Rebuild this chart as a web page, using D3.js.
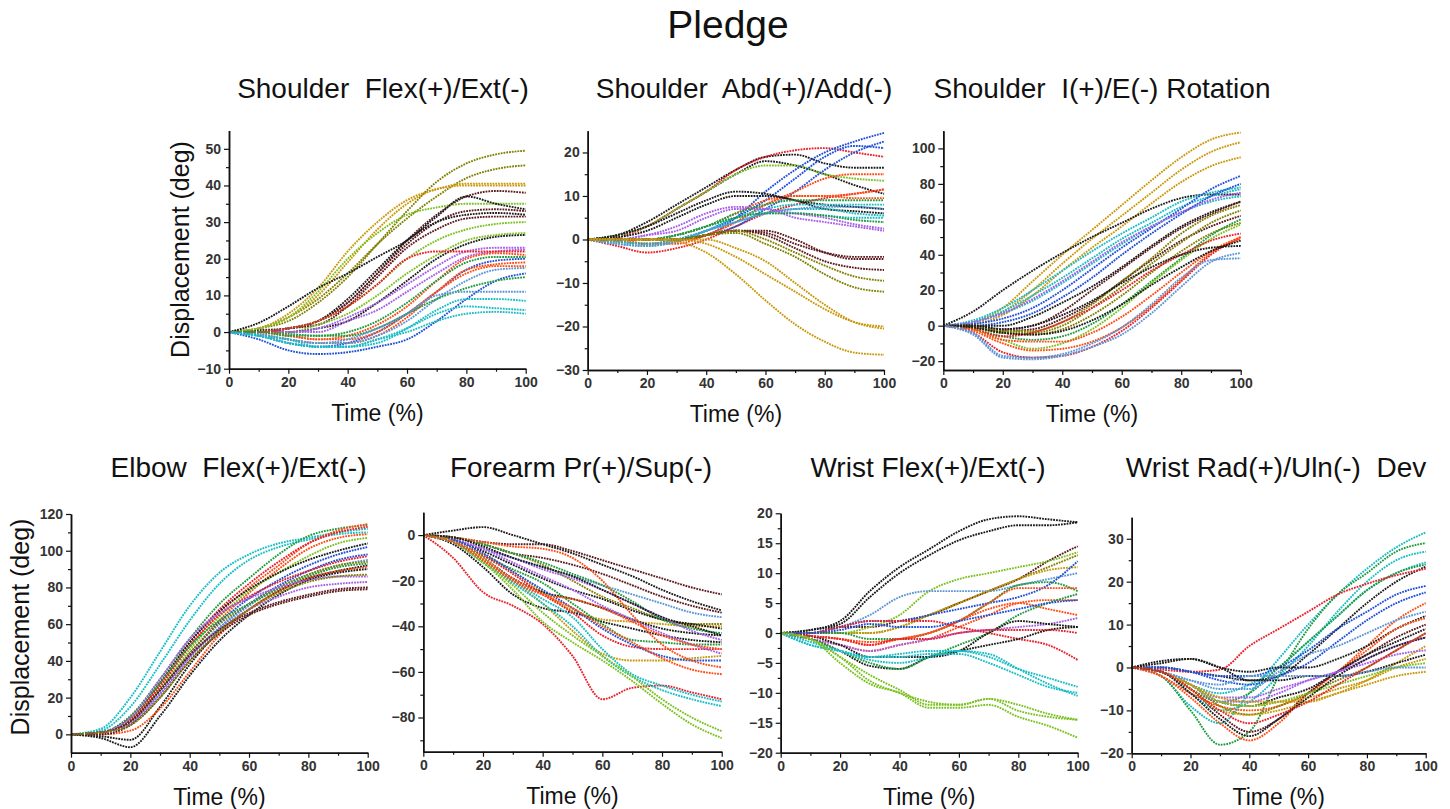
<!DOCTYPE html>
<html>
<head>
<meta charset="utf-8">
<script src="https://cdn.jsdelivr.net/npm/d3@7"></script>
<style>
body { margin: 0; background: #fff; }
svg text { font-family: "Liberation Sans", Arial, sans-serif; }
</style>
</head>
<body>
<svg id="chart" width="1450" height="809"></svg>
<script>
// time samples (% of movement) shared by every trace
const timePct = [0, 10, 20, 30, 40, 50, 60, 70, 80, 90, 100];
const xTicks = [0, 20, 40, 60, 80, 100];
const xMinor = [10, 30, 50, 70, 90];

// Origin-like colour set
const palette = {
  k: '#1a1a1a', r: '#e8202a', b: '#1f4fd8', g: '#1f9a3c', p: '#a55ee8', o: '#808000',
  m: '#5c1a1e', c: '#17bcc4', or: '#ff4a12', yg: '#7ac11f', lb: '#5b95d6', gd: '#c9980a'
};

// ---- Shoulder Flex(+)/Ext(-)
const shFlexValues = [
  [0,1,3,8,15,24,33,41,46,48.5,49.5],
  [0,1,4,9,16,24,31,37,42,44.5,45.5],
  [0,1,5,12,22,30,36,39,40.5,40.5,40.5],
  [0,1,4,10,19,28,35,39,40,40,40],
  [0,0.5,1,3,8,16,25,32,37,38.5,38],
  [0,1,4,11,20,27,32,34,35,35,35],
  [0,2.5,7,12,16,20.5,25,31.5,37,35,33.5],
  [0,0,1,3,8,16,24,30,33,33.5,33],
  [0,0,1,3,9,17,25,30,32,32.5,32],
  [0,0,1,2,7,15,23,28,31,31.5,31.5],
  [0,0,1,3,7,13,20,25,28,29.5,30],
  [0,0,0,2,5,10,16,21,25,26.5,27],
  [0,0,0,1,3,8,14,20,24,26,26.5],
  [0,0,0,1,4,8,13,18,22,23,23],
  [0,0,0,0,3,6,11,16,20.5,22,22.5],
  [0,0,1,3,7,13,20,22,22,22,22],
  [0,0,-1,-2,-1,2,7,14,20,21.5,21],
  [0,0,-0.5,-1,0,3,8,14,19,20.5,20.5],
  [0,-1,-3,-4,-3,0,5,11,17,19.5,20],
  [0,-0.5,-2,-3,-3,-1,4,11,17,18.5,19],
  [0,0,-1,-2,-2,0,5,11,16,18,18],
  [0,-0.5,-2,-3,-3,-1,3,9,14,17,17.5],
  [0,-2,-5,-6,-5.5,-4,-2,3,9,14,16],
  [0,0,-1,-1,-1,1,5,9,12,14,15],
  [0,-1,-2,-3,-2,1,5,10,11,11,11],
  [0,-1,-3,-4,-4,-3,1,6,9,9,8.5],
  [0,-1,-3,-4,-4,-2,1,5,7,6.5,6],
  [0,-1,-2,-4,-4,-2,0,3,5,5.5,5]
];
const shFlexColors = ['o','o','gd','gd','m','yg','k','m','k','m','yg','yg','k','p','p','r',
  'or','g','b','or','or','lb','b','g','lb','c','c','c'];

// ---- Shoulder Abd(+)/Add(-)
const shAbdValues = [
  [0,1,4,8,12,16,19,19.5,17.5,16.5,16.5],
  [0,1,3,7,11,15,18,17,15,12.5,10.5],
  [0,0.5,3,7,11,16,19,20.5,21,20,19],
  [0,-1.5,-3,-2,0,3,6,8,9.5,10.5,11.5],
  [0,1,3,7,11,15,17,17,15,14,13.5],
  [0,0,0,0,1,5,11,16,20,22.5,24.5],
  [0,0,0,0,1,3,7,11,16,20,22.5],
  [0,-0.5,-1,0,2,5,9,14,19,21.5,21],
  [0,-0.5,-1,-1,1,4,8,11,14,15,15],
  [0,0,0,1,3,6,9,10,10,10.5,11.5],
  [0,0,-1,-0.5,1,4,8,10,10,9.5,9.5],
  [0,0.5,2,5,8,10,10,9,7,6.5,6],
  [0,1,3,6,9,11,10.5,9,8,7.5,7],
  [0,-0.5,-1,0,2,4,6,7,7,6,5.5],
  [0,-1,-1.5,-0.5,2,5,7,8,8,8,8],
  [0,0,0,1,3,5,6,6,5.5,5,5],
  [0,-1,-1.5,-0.5,2,4,6,7,7.5,7.5,7],
  [0,0,1,3,6,7.5,7,6,5,3.5,2.5],
  [0,0,1,2,5,7,7,5,4,3,2],
  [0,0,0,1,3,5,6,6,5.5,4.5,4],
  [0,0,0,1,3,6,8,9,9,9,9],
  [0,0,0,0,1,2,1.5,-1,-3,-4,-4],
  [0,0,0,0,1,2,2,0,-3,-4.5,-4.5],
  [0,0,0,0,1,2,1,-2,-5,-6.5,-7],
  [0,0,0,0,1,2,0,-3,-6,-8.5,-9.5],
  [0,0,0,0,1,1.5,-1,-4,-8,-11,-12],
  [0,0,0,0,0,-2,-5,-10,-15,-19,-20.5],
  [0,0,0,0,-1,-4,-8,-12,-16,-19,-20],
  [0,0,0,-0.5,-3,-8,-14,-19.5,-23.5,-26,-26.5]
];
const shAbdColors = ['k','k','r','r','yg','b','b','b','or','or','or','k','k','c','c','c','lb',
  'p','p','g','g','m','m','m','o','o','gd','gd','gd'];

// ---- Shoulder I(+)/E(-) Rotation
const shRotValues = [
  [0,2,10,25,40,54,68,82,95,105,109],
  [0,2,8,20,35,49,62,75,88,98,103.5],
  [0,1,6,17,31,44,56,69,81,90,95],
  [0,8,20,31,41,50,58,66,72,74,74],
  [0,3,10,20,31,42,52,61,70,75,78],
  [0,2,8,17,27,38,49,58,67,73,77],
  [0,2,7,14,24,35,46,56,64,70,73],
  [0,1,4,10,20,32,44,55,66,77,84.5],
  [0,0,2,7,16,27,40,52,63,73,80],
  [0,2,7,15,25,36,47,56,64,71,75],
  [0,0,0,5,13,22,33,45,56,64,70],
  [0,0,-2,0,8,20,32,44,55,63,70],
  [0,-1,-3,-2,4,13,25,37,48,56,62],
  [0,0,-3,-3,2,12,25,38,52,62,68],
  [0,-1,-4,-4,0,10,22,35,47,58,65],
  [0,-1,-4,-5,-2,6,17,30,42,52,58],
  [0,-2,-6,-8,-6,1,12,25,38,51,60],
  [0,-2,-8,-13,-10,-2,10,24,37,49,57],
  [0,-2,-6,-4,2,10,20,31,40,48,52],
  [0,-4,-15,-18,-17,-12,-3,10,25,40,50],
  [0,-3,-10,-14,-13,-9,-1,11,26,41,49],
  [0,-2,-8,-9,-9,-4,5,17,30,42,50],
  [0,-1,-4,-5,-3,3,12,23,33,42,48],
  [0,0,-2,0,6,14,24,33,40,44,45],
  [0,-5,-18,-19,-17,-12,-5,7,22,36,41],
  [0,-4,-17,-18,-16,-10,-1,12,27,37,38]
];
const shRotColors = ['gd','gd','gd','k','c','c','c','b','b','p','k','m','m','o','o','o','g','yg',
  'r','r','or','or','k','k','lb','lb'];

// ---- Elbow Flex(+)/Ext(-)
const elbowValues = [
  [0,3,20,45,70,88,98,104,107,110,112],
  [0,2,15,38,62,82,95,102,106,109,110],
  [0,1,10,30,52,71,85,98,108,112,114],
  [0,1,8,27,48,66,80,92,104,111,114.5],
  [0,1,9,28,50,68,82,94,104,110,113],
  [0,1,7,24,44,62,77,90,101,107,109],
  [0,1,8,25,46,64,78,88,97,104,107],
  [0,1,9,28,50,67,79,88,95,100,104],
  [0,1,7,24,44,61,74,84,92,98,102],
  [0,1,6,22,42,58,71,81,89,95,98],
  [0,1,8,26,48,65,75,83,89,94,97],
  [0,1,6,22,42,58,70,80,87,92,95],
  [0,1,7,24,44,60,71,80,87,92,94],
  [0,1,9,28,48,62,71,79,86,91,93],
  [0,-1,-3,15,38,56,68,78,85,89,92],
  [0,0,2,14,34,54,68,78,85,89,91],
  [0,-2,-7,10,32,51,65,76,84,88,90],
  [0,1,9,30,52,66,74,80,84,86,86],
  [0,1,6,22,42,57,68,75,80,82,83],
  [0,1,7,24,43,57,66,72,76,79,80],
  [0,0,5,20,40,55,65,71,75,78,79],
  [0,1,5,20,40,56,68,77,83,86,87]
];
const elbowColors = ['c','c','g','or','r','or','yg','k','b','b','r','lb','o','g','k','or','k',
  'p','p','m','m','o'];

// ---- Forearm Pr(+)/Sup(-)
const forearmValues = [
  [0,-1,-3,-4,-4,-7,-11,-15,-19,-23,-26],
  [0,2,3.5,0,-4,-8,-13,-18,-24,-29,-33],
  [0,-1,-4,-8,-10,-13,-17,-22,-27,-31,-34],
  [0,-2,-6,-10,-14,-18,-22,-26,-30,-34,-36],
  [0,-1,-4,-8,-13,-20,-27,-32,-37,-39,-39],
  [0,-2,-8,-16,-25,-33,-37,-38,-39,-40,-40],
  [0,-2,-7,-13,-19,-24,-28,-33,-37,-39,-41],
  [0,-1,-4,-8,-12,-17,-22,-29,-37,-41,-43],
  [0,-3,-10,-19,-25,-28,-32,-37,-41,-43,-44],
  [0,-2,-6,-10,-15,-19,-24,-30,-36,-42,-46],
  [0,-4,-14,-26,-32,-34,-38,-41,-44,-46,-47],
  [0,-3,-9,-15,-21,-30,-39,-46,-47,-48,-48],
  [0,-3,-9,-17,-26,-34,-44,-49,-50,-50,-50],
  [0,-2,-6,-12,-18,-24,-31,-37,-43,-48,-52],
  [0,-3,-10,-20,-30,-42,-52,-55,-55,-54,-53],
  [0,-2,-8,-16,-24,-32,-41,-48,-53,-55,-55],
  [0,-1,-3,-5,-6,-10,-20,-35,-48,-55,-58],
  [0,-3,-11,-19,-26,-32,-40,-47,-54,-59,-61],
  [0,-10,-25,-31,-39,-53,-72,-67,-66,-69,-72],
  [0,-3,-12,-20,-28,-36,-50,-61,-66,-70,-73],
  [0,-3,-12,-21,-30,-40,-53,-62,-68,-72,-75],
  [0,-3,-12,-22,-34,-44,-53,-62,-72,-80,-86],
  [0,-3,-12,-24,-38,-47,-55,-64,-74,-83,-89],
  [0,-1,-5,-10,-14,-18,-24,-30,-36,-40,-44],
  [0,-3,-11,-20,-26,-28,-32,-38,-44,-48,-50]
];
const forearmColors = ['m','k','m','lb','o','gd','k','g','k','p','k','g','r','p','gd','b','or',
  'or','r','c','c','yg','yg','k','or'];

// ---- Wrist Flex(+)/Ext(-)
const wristFlexValues = [
  [0,0.5,2,7,11,14,17,19,19.5,19,18.5],
  [0,0.5,1.5,6,10,13,15.5,17,18,18,18.5],
  [0,0,1,1,2,3,5,7,9,12,14.5],
  [0,0,0,1,3,7,9,10,11,12,13.5],
  [0,0,0,0,1,3,5,7,9,11,13],
  [0,0,1,3,6,7,7,7,8,9,10],
  [0,0,0,0,1,3,5,7,9,10.5,11],
  [0,0,1,2,2,3,4,5,6,8,12],
  [0,0,0,-1,-1,0,2,5,8,8.5,7],
  [0,-0.5,-1,-2,-1,0,2,5,7.5,7.5,7.5],
  [0,-1,-2,-3,-2,-1,1,3,5,5.5,5.5],
  [0,-0.5,-1,-1.5,-1,0,2,4,5,4,3],
  [0,0,1,2,2,2,1,0,-1,-2,-4.5],
  [0,-1,-2,-3,-2,-1,0,0.5,1,1.5,2.5],
  [0,-1,-3,-5.5,-6,-4,-3,-2,-1,0.5,1],
  [0,-1,-3,-5,-6,-4,-2,0,3,5,6.5],
  [0,-0.5,-2,-4,-4,-4,-3,0,2,1.5,1],
  [0,-0.5,-1,-2,-1,-1,0,0.5,0.5,0.5,0],
  [0,0,0.5,1.5,1,1,2,3,4,5,5.5],
  [0,-2,-3,-4,-3.5,-3,-3,-4,-6,-7.5,-9],
  [0,-2,-3,-4,-4,-3.5,-3.5,-5,-7,-9,-10],
  [0,-1.5,-3,-4.5,-5,-4,-3,-3.5,-6,-8.5,-10.5],
  [0,-1,-4,-8,-10,-11.5,-12,-11,-12,-13.5,-14.5],
  [0,-1,-5,-8.5,-10,-12.5,-12.5,-12,-14,-15.5,-17.5],
  [0,-1,-4,-7,-9.5,-12,-12,-11,-13,-14,-14.5]
];
const wristFlexColors = ['k','k','m','yg','o','lb','gd','b','g','or','or','or','r','p','k','g',
  'k','r','b','c','c','c','yg','yg','yg'];

// ---- Wrist Rad(+)/Uln(-) Dev
const wristDevValues = [
  [0,-2,-9,-13,-6,2,10,17,23,28,31.5],
  [0,-2,-10,-18,-15,-2,9,17,22,27,29],
  [0,-1,-6,-10,-8,-2,5,13,20,25,27],
  [0,-1,-4,-6,-4,0,6,12,18,22,24.5],
  [0,-1,-5,-8,-6,0,6,12,18,22,24],
  [0,0,-1,-2,-3,-2,3,9,15,20,23.5],
  [0,-0.5,-1,-0.5,5,9,13,17,19.5,21.5,23],
  [0,0,-1,-2,-2,0,4,9,13,17,19],
  [0,0,-1,-3,-4,-2,1,6,11,15,17.5],
  [0,-2,-6,-9,-10,-9,-6,-1,5,11,15],
  [0,-1,-3,-5,-5,-1,3,5,8,11,13],
  [0,1.5,2,0,-1,0,0,2,5,9,12],
  [0,-2,-7,-13,-17,-13,-6,-1,4,9,11.5],
  [0,-1,-5,-11,-15,-12,-6,-1,3,7,10],
  [0,-1,-4,-8,-9,-7,-5,-1,3,6,9],
  [0,-1,-4,-9,-11,-9,-6,-3,0,4,8],
  [0,-1,-4,-8,-8,-6,-3,-1,2,5,7],
  [0,-1,-5,-10,-11,-10,-8,-6,-3,1,5],
  [0,-1,-4,-7,-7,-5,-3,-1,1,3,4],
  [0,1,2,0,-3,-3,-2,-2,-1,1,3],
  [0,-1,-4,-8,-9,-8,-7,-5,-3,0,2],
  [0,-1,-4,-8,-9,-8,-6,-4,-2,0,1],
  [0,-1,-3,-4,-2,-2,-2,-2,-1,0,0],
  [0,-1,-4,-7,-8,-8,-8,-6,-4,-2,-1],
  [0,-1,-6,-12,-16,-12,-7,-2,2,5,7],
  [0,-1,-5,-10,-13,-11,-8,-4,0,4,8]
];
const wristDevColors = ['c','g','c','c','g','k','r','b','b','or','lb','k','or','m','k','o','p',
  'gd','p','k','gd','yg','lb','gd','k','r'];

const panels = [
  { title: 'Shoulder  Flex(+)/Ext(-)', tx: 383, ty: 98, values: shFlexValues, colors: shFlexColors,
    box: [229, 525.7, 130.5, 368.7], yDomain: [-10, 55], yTicks: d3.range(-10, 51, 10), yMinor: d3.range(-5, 56, 10), ylabel: [189, 249.5] },
  { title: 'Shoulder  Abd(+)/Add(-)', tx: 744, ty: 98, values: shAbdValues, colors: shAbdColors,
    box: [587.7, 884, 130.7, 370], yDomain: [-30, 25], yTicks: d3.range(-30, 21, 10), yMinor: d3.range(-25, 26, 10) },
  { title: 'Shoulder  I(+)/E(-) Rotation', tx: 1102, ty: 98, values: shRotValues, colors: shRotColors,
    box: [943.3, 1240.7, 130.7, 370], yDomain: [-25, 110], yTicks: d3.range(-20, 101, 20), yMinor: d3.range(-10, 111, 20) },
  { title: 'Elbow  Flex(+)/Ext(-)', tx: 238.5, ty: 477, values: elbowValues, colors: elbowColors,
    box: [71, 367.7, 514, 752.7], yDomain: [-10, 120], yTicks: d3.range(0, 121, 20), yMinor: d3.range(-10, 111, 20), ylabel: [29, 627] },
  { title: 'Forearm Pr(+)/Sup(-)', tx: 581, ty: 477, values: forearmValues, colors: forearmColors,
    box: [423.3, 721.7, 512.3, 751.7], yDomain: [-95, 10], yTicks: d3.range(-80, 1, 20), yMinor: d3.range(-90, 11, 20) },
  { title: 'Wrist Flex(+)/Ext(-)', tx: 928, ty: 477, values: wristFlexValues, colors: wristFlexColors,
    box: [780.7, 1077.7, 513.3, 752.7], yDomain: [-20, 20], yTicks: d3.range(-20, 21, 5), yMinor: d3.range(-17.5, 20, 5) },
  { title: 'Wrist Rad(+)/Uln(-)  Dev', tx: 1276, ty: 477, values: wristDevValues, colors: wristDevColors,
    box: [1131.7, 1425.7, 517.3, 753.3], yDomain: [-20, 35], yTicks: d3.range(-20, 31, 10), yMinor: d3.range(-15, 36, 10) }
];

const svg = d3.select('#chart');

svg.append('text')
   .attr('x', 728).attr('y', 38)
   .attr('text-anchor', 'middle')
   .attr('font-size', 39)
   .attr('fill', '#111')
   .text('Pledge');

function styleAxis(sel) {
  sel.select('.domain').attr('stroke', '#111').attr('stroke-width', 1.5);
  sel.selectAll('.tick line').attr('stroke', '#111').attr('stroke-width', 1.2);
  sel.selectAll('.tick text')
     .attr('font-family', '"Liberation Sans", Arial, sans-serif')
     .attr('font-size', 14)
     .attr('font-weight', 'bold')
     .attr('fill', '#333');
}

panels.forEach(p => {
  const [x0, x1, y0, y1] = p.box;
  const x = d3.scaleLinear().domain([0, 100]).range([x0, x1]);
  const y = d3.scaleLinear().domain(p.yDomain).range([y1, y0]);
  const g = svg.append('g');

  const line = d3.line()
                 .x((d, i) => x(timePct[i]))
                 .y(d => y(d))
                 .curve(d3.curveMonotoneX);

  g.selectAll('path.trace')
   .data(p.values)
   .enter()
   .append('path')
   .attr('class', 'trace')
   .attr('d', line)
   .attr('fill', 'none')
   .attr('stroke', (d, i) => palette[p.colors[i]])
   .attr('stroke-width', 1.9)
   .attr('stroke-dasharray', '1.8 1');

  // minor ticks first, then the labelled axis over them
  g.append('g')
   .attr('transform', 'translate(0,' + y1 + ')')
   .call(d3.axisBottom(x).tickValues(xMinor).tickSize(3).tickSizeOuter(0).tickFormat(''))
   .call(styleAxis);
  g.append('g')
   .attr('transform', 'translate(' + x0 + ',0)')
   .call(d3.axisLeft(y).tickValues(p.yMinor.filter(v => v > p.yDomain[0] && v < p.yDomain[1])).tickSize(3).tickSizeOuter(0).tickFormat(''))
   .call(styleAxis);
  g.append('g')
   .attr('transform', 'translate(0,' + y1 + ')')
   .call(d3.axisBottom(x).tickValues(xTicks).tickSize(5).tickSizeOuter(0).tickPadding(3))
   .call(styleAxis);
  g.append('g')
   .attr('transform', 'translate(' + x0 + ',0)')
   .call(d3.axisLeft(y).tickValues(p.yTicks).tickSize(5).tickSizeOuter(0).tickPadding(3))
   .call(styleAxis);

  g.append('text')
   .attr('x', p.tx).attr('y', p.ty)
   .attr('text-anchor', 'middle')
   .attr('font-size', 28)
   .attr('fill', '#111')
   .style('white-space', 'pre')
   .text(p.title);

  g.append('text')
   .attr('x', (x0 + x1) / 2).attr('y', y1 + 52)
   .attr('text-anchor', 'middle')
   .attr('font-size', 23)
   .attr('fill', '#111')
   .text('Time (%)');

  if (p.ylabel) {
    g.append('text')
     .attr('transform', 'translate(' + p.ylabel[0] + ',' + p.ylabel[1] + ') rotate(-90)')
     .attr('text-anchor', 'middle')
     .attr('font-size', 25)
     .attr('fill', '#111')
     .text('Displacement (deg)');
  }
});
</script>
</body>
</html>
